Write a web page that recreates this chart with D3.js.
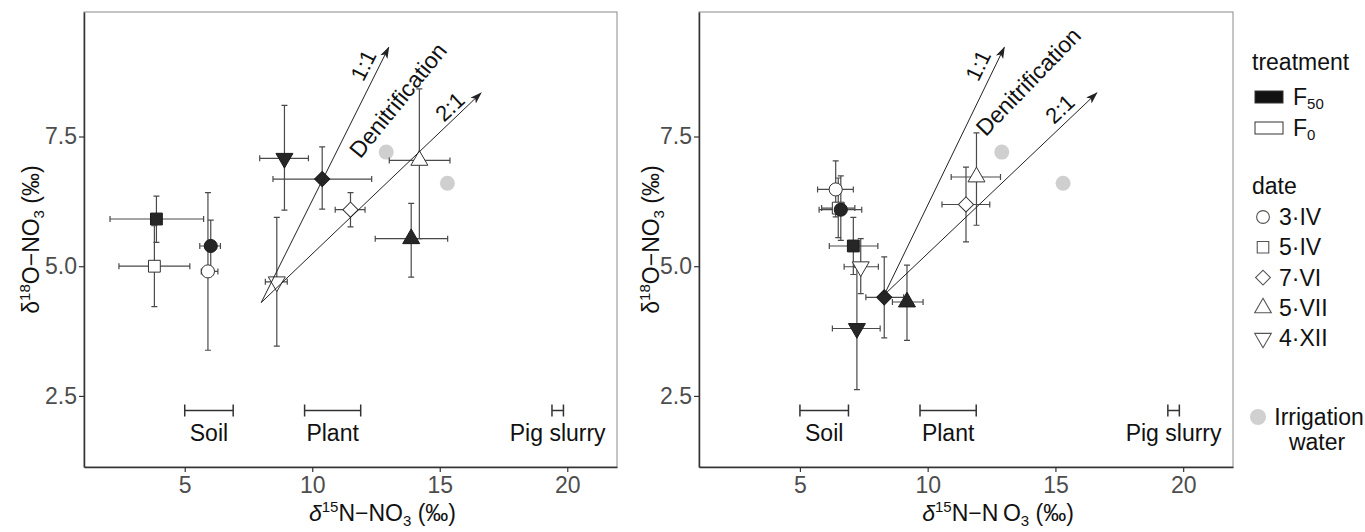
<!DOCTYPE html>
<html>
<head>
<meta charset="utf-8">
<script src="https://cdn.jsdelivr.net/npm/d3@7/dist/d3.min.js"></script>
<style>
  body { margin: 0; background: #fff; }
  text { font-family: "Liberation Sans", Arial, sans-serif; }
</style>
</head>
<body>
<div id="chart"></div>
<script>
// ---- data ----
const dates = ["3·IV", "5·IV", "7·VI", "5·VII", "4·XII"];
const treatments = ["F50", "F0"];

// [date, treatment, x, xlo, xhi, y, ylo, yhi]
const leftPoints = [
  ["3·IV",  "F50", 6.02, 5.59, 6.40, 5.39, 4.89, 5.89],
  ["5·IV",  "F50", 3.89, 2.07, 5.74, 5.91, 5.46, 6.35],
  ["7·VI",  "F50", 10.39, 8.46, 12.33, 6.68, 6.10, 7.30],
  ["5·VII", "F50", 13.88, 12.47, 15.31, 5.53, 4.79, 6.21],
  ["4·XII", "F50", 8.91, 7.94, 9.85, 7.08, 6.08, 8.10],
  ["3·IV",  "F0", 5.91, 5.65, 6.30, 4.90, 3.38, 6.42],
  ["5·IV",  "F0", 3.81, 2.42, 5.20, 5.00, 4.22, 5.78],
  ["7·VI",  "F0", 11.50, 10.90, 12.07, 6.09, 5.76, 6.42],
  ["5·VII", "F0", 14.20, 13.02, 15.40, 7.04, 5.53, 8.42],
  ["4·XII", "F0", 8.61, 8.16, 9.02, 4.70, 3.46, 5.94]
];
const rightPoints = [
  ["3·IV",  "F0", 6.40, 5.69, 7.09, 6.48, 5.95, 7.03],
  ["5·IV",  "F0", 6.50, 5.85, 7.15, 6.12, 5.55, 6.70],
  ["3·IV",  "F50", 6.60, 5.75, 7.42, 6.09, 5.50, 6.74],
  ["5·IV",  "F50", 7.09, 6.15, 8.05, 5.39, 4.84, 5.94],
  ["7·VI",  "F50", 8.30, 7.58, 9.06, 4.40, 3.62, 5.18],
  ["5·VII", "F50", 9.19, 8.62, 9.82, 4.31, 3.57, 5.02],
  ["4·XII", "F50", 7.23, 6.27, 8.14, 3.80, 2.62, 4.98],
  ["7·VI",  "F0", 11.50, 10.56, 12.43, 6.19, 5.47, 6.91],
  ["5·VII", "F0", 11.91, 10.92, 12.85, 6.72, 5.79, 7.57],
  ["4·XII", "F0", 7.38, 6.73, 8.07, 4.99, 4.47, 5.53]
];

const irrigationX = [12.9, 15.3];
const irrigationY = [7.2, 6.6];

const sourceNames = ["Soil", "Plant", "Pig slurry"];
const sourceLo = [5.0, 9.7, 19.4];
const sourceHi = [6.9, 11.9, 19.85];
const sourceBarY = 2.22;
const sourceLabelY = 1.63;

const leftArrowStart = [8.0, 4.3];
const rightArrowStart = [8.3, 4.45];
const oneToOneEnd = [13.0, 9.22];
const twoToOneEnd = [16.62, 8.34];

const arrowLabels = ["1:1", "Denitrification", "2:1"];
const leftLabelX = [12.01, 13.36, 15.40];
const leftLabelY = [8.87, 8.20, 8.07];
const rightLabelX = [11.98, 13.94, 15.18];
const rightLabelY = [8.87, 8.56, 8.03];

const xTicks = [5, 10, 15, 20];
const yTicks = [2.5, 5.0, 7.5];
const xDomain = [1.05, 21.95];
const yDomain = [1.13, 9.9];

// ---- drawing ----
const svg = d3.select("#chart").append("svg")
  .attr("width", 1365).attr("height", 532);

svg.append("defs").append("marker")
  .attr("id", "arrow")
  .attr("viewBox", "0 0 12 10")
  .attr("refX", 11).attr("refY", 5)
  .attr("markerWidth", 12).attr("markerHeight", 10)
  .attr("markerUnits", "userSpaceOnUse")
  .attr("orient", "auto")
  .append("path")
  .attr("d", "M0,1 L12,5 L0,9 L3,5 Z")
  .attr("fill", "#222");

const shapeOf = {
  "3·IV": {type: d3.symbolCircle, size: 135, rot: 0},
  "5·IV": {type: d3.symbolSquare, size: 140, rot: 0},
  "7·VI": {type: d3.symbolSquare, size: 115, rot: 45},
  "5·VII": {type: d3.symbolTriangle, size: 125, rot: 0},
  "4·XII": {type: d3.symbolTriangle, size: 125, rot: 180}
};

function drawPanel(p) {
  const x = d3.scaleLinear().domain(xDomain).range([p.x0, p.x1]);
  const y = d3.scaleLinear().domain(yDomain).range([p.y1, p.y0]);
  const g = svg.append("g");

  // border
  g.append("rect")
    .attr("x", p.x0).attr("y", p.y0)
    .attr("width", p.x1 - p.x0).attr("height", p.y1 - p.y0)
    .attr("fill", "none").attr("stroke", "#8a8a8a").attr("stroke-width", 1);

  const xAxis = g.append("g")
    .attr("transform", `translate(0,${p.y1})`)
    .call(d3.axisBottom(x).tickValues(xTicks).tickSize(5).tickSizeOuter(0).tickPadding(5));
  const yAxis = g.append("g")
    .attr("transform", `translate(${p.x0},0)`)
    .call(d3.axisLeft(y).tickValues(yTicks).tickSize(5).tickSizeOuter(0).tickPadding(2)
      .tickFormat(d3.format(".1f")));
  [xAxis, yAxis].forEach(a => {
    a.select(".domain").attr("stroke", "#333").attr("stroke-width", 1.5);
    a.selectAll(".tick line").attr("stroke", "#333").attr("stroke-width", 1.2);
    a.selectAll(".tick text").attr("fill", "#4d4d4d").style("font-size", "23px")
      .style("font-family", "'Liberation Sans', Arial, sans-serif");
  });

  // axis titles
  const xt = g.append("text")
    .attr("x", (p.x0 + p.x1) / 2 + 32).attr("y", 521)
    .attr("text-anchor", "middle").style("font-size", "23px").attr("fill", "#111");
  xt.append("tspan").text("δ").style("font-style", "italic");
  xt.append("tspan").text("15").attr("dy", -9).style("font-size", "15px");
  xt.append("tspan").text(p.nText).attr("dy", 9);
  xt.append("tspan").text("3").attr("dy", 5).style("font-size", "15px");
  xt.append("tspan").text(" (‰)").attr("dy", -5);

  const yt = g.append("text")
    .attr("transform", `translate(${p.yTitleX},${(p.y0 + p.y1) / 2}) rotate(-90)`)
    .attr("text-anchor", "middle").style("font-size", "23px").attr("fill", "#111");
  yt.append("tspan").text("δ");
  yt.append("tspan").text("18").attr("dy", -9).style("font-size", "15px");
  yt.append("tspan").text("O−NO").attr("dy", 9);
  yt.append("tspan").text("3").attr("dy", 5).style("font-size", "15px");
  yt.append("tspan").text(" (‰)").attr("dy", -5);

  // source ranges
  sourceNames.forEach((name, i) => {
    const xa = x(sourceLo[i]), xb = x(sourceHi[i]), yy = y(sourceBarY);
    g.append("path")
      .attr("d", `M${xa},${yy}H${xb}M${xa},${yy - 6}V${yy + 6}M${xb},${yy - 6}V${yy + 6}`)
      .attr("stroke", "#333").attr("stroke-width", 1.5).attr("fill", "none");
    g.append("text")
      .attr("x", (xa + xb) / 2).attr("y", y(sourceLabelY))
      .attr("text-anchor", "middle").style("font-size", "23px").attr("fill", "#111")
      .text(name);
  });

  // irrigation water
  irrigationX.forEach((v, i) => {
    g.append("circle").attr("cx", x(v)).attr("cy", y(irrigationY[i])).attr("r", 7.5)
      .attr("fill", "#cfcfcf");
  });

  // error bars
  const cap = 3;
  p.points.forEach(d => {
    const [, , px, xlo, xhi, py, ylo, yhi] = d;
    const cx = x(px), cy = y(py);
    g.append("path")
      .attr("d", `M${x(xlo)},${cy}H${x(xhi)}M${x(xlo)},${cy - cap}V${cy + cap}M${x(xhi)},${cy - cap}V${cy + cap}` +
        `M${cx},${y(ylo)}V${y(yhi)}M${cx - cap},${y(ylo)}H${cx + cap}M${cx - cap},${y(yhi)}H${cx + cap}`)
      .attr("stroke", "#4a4a4a").attr("stroke-width", 1.2).attr("fill", "none");
  });

  // points
  p.points.forEach(d => {
    const s = shapeOf[d[0]];
    const filled = d[1] === "F50";
    g.append("path")
      .attr("d", d3.symbol().type(s.type).size(s.size)())
      .attr("transform", `translate(${x(d[2])},${y(d[5])}) rotate(${s.rot})`)
      .attr("fill", filled ? "#262626" : "#fff")
      .attr("stroke", filled ? "#1a1a1a" : "#333").attr("stroke-width", 1);
  });

  // arrows
  [oneToOneEnd, twoToOneEnd].forEach(end => {
    g.append("line")
      .attr("x1", x(p.arrowStart[0])).attr("y1", y(p.arrowStart[1]))
      .attr("x2", x(end[0])).attr("y2", y(end[1]))
      .attr("stroke", "#222").attr("stroke-width", 1)
      .attr("marker-end", "url(#arrow)");
  });
  arrowLabels.forEach((t, i) => {
    g.append("text")
      .attr("transform", `translate(${x(p.labelX[i])},${y(p.labelY[i])}) rotate(${p.angles[i]})`)
      .attr("text-anchor", "middle").attr("dominant-baseline", "central")
      .style("font-size", i === 1 ? "23px" : "22px").attr("fill", "#111")
      .text(t);
  });
}

drawPanel({
  x0: 84, x1: 617, y0: 12, y1: 467, yTitleX: 39,
  points: leftPoints, arrowStart: leftArrowStart,
  labelX: leftLabelX, labelY: leftLabelY, angles: [-63, -51, -43],
  nText: "N−NO"
});
drawPanel({
  x0: 699, x1: 1233, y0: 12, y1: 467, yTitleX: 659,
  points: rightPoints, arrowStart: rightArrowStart,
  labelX: rightLabelX, labelY: rightLabelY, angles: [-64, -46, -43],
  nText: "N−N\u2009O"
});

// ---- legend ----
const lg = svg.append("g");
lg.append("text").attr("x", 1252).attr("y", 70).style("font-size", "23px").attr("fill", "#111")
  .text("treatment");
treatments.forEach((t, i) => {
  const cy = 97 + i * 31;
  lg.append("rect").attr("x", 1255).attr("y", cy - 6).attr("width", 28).attr("height", 12)
    .attr("fill", t === "F50" ? "#111" : "#fff").attr("stroke", "#333").attr("stroke-width", 1);
  const tx = lg.append("text").attr("x", 1293).attr("y", cy + 8)
    .style("font-size", "23px").attr("fill", "#111");
  tx.append("tspan").text("F");
  tx.append("tspan").text(t.slice(1)).attr("dy", 4).style("font-size", "15px");
});

lg.append("text").attr("x", 1252).attr("y", 194).style("font-size", "23px").attr("fill", "#111")
  .text("date");
dates.forEach((dt, i) => {
  const cy = 217 + i * 30.3;
  const s = shapeOf[dt];
  lg.append("path")
    .attr("d", d3.symbol().type(s.type).size(s.size * 0.95)())
    .attr("transform", `translate(1263,${cy}) rotate(${s.rot})`)
    .attr("fill", "#fff").attr("stroke", "#555").attr("stroke-width", 1.1);
  lg.append("text").attr("x", 1279).attr("y", cy + 8)
    .style("font-size", "23px").attr("fill", "#111").text(dt);
});

lg.append("circle").attr("cx", 1258).attr("cy", 417).attr("r", 8).attr("fill", "#d0d0d0");
lg.append("text").attr("x", 1319).attr("y", 425).attr("text-anchor", "middle")
  .style("font-size", "23px").attr("fill", "#111").text("Irrigation");
lg.append("text").attr("x", 1317).attr("y", 450).attr("text-anchor", "middle")
  .style("font-size", "23px").attr("fill", "#111").text("water");
</script>
</body>
</html>
